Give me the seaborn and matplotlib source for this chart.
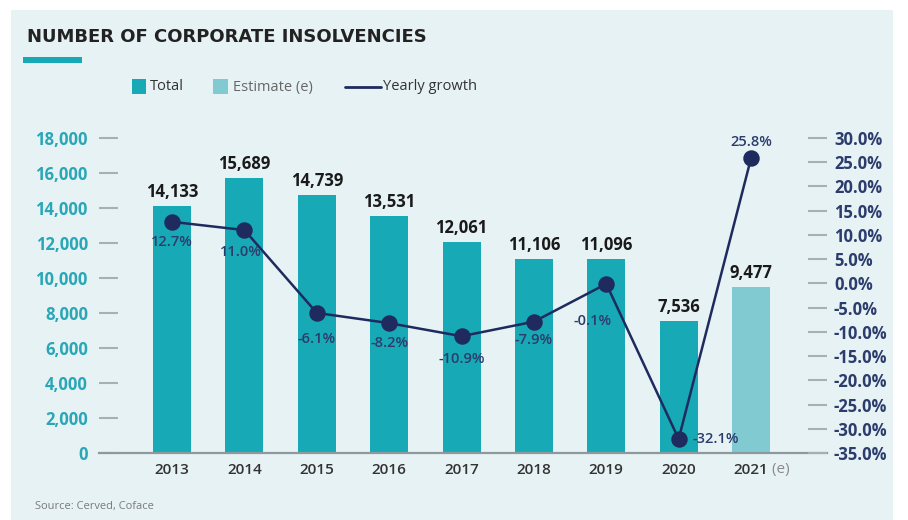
import matplotlib
matplotlib.use("Agg")
import matplotlib.pyplot as plt
from matplotlib.patches import Rectangle
from matplotlib.lines import Line2D
import seaborn as sns
import pandas as pd

# --- data -------------------------------------------------------------
years = ["2013", "2014", "2015", "2016", "2017", "2018", "2019", "2020", "2021"]
insolvencies = [14133, 15689, 14739, 13531, 12061, 11106, 11096, 7536, 9477]
growth_pct = [12.7, 11.0, -6.1, -8.2, -10.9, -7.9, -0.1, -32.1, 25.8]
is_estimate = [False, False, False, False, False, False, False, False, True]
left_ticks = [0, 2000, 4000, 6000, 8000, 10000, 12000, 14000, 16000, 18000]
right_ticks = [-35, -30, -25, -20, -15, -10, -5, 0, 5, 10, 15, 20, 25, 30]

# label offsets for the growth values (pixels, relative to each point)
growth_label_offsets = [(0, -20), (-4, -22), (0, -26), (0, -20), (0, -23),
                        (0, -18), (-14, -37), (14, 0), (0, 16)]

# --- style ------------------------------------------------------------
TEAL = "#17a9b5"
EST = "#82cad1"
NAVY = "#1f2b5e"
PANEL = "#e7f2f5"
TICK_GRAY = "#a3b2b6"
W, H = 908, 520

sns.set_theme(style="white")
plt.rcParams["font.family"] = ["Open Sans", "DejaVu Sans"]


def fx(x):
    return x / W


def fy(y):
    return 1 - y / H


fig = plt.figure(figsize=(W / 100, H / 100), dpi=100)
fig.patch.set_facecolor("white")
fig.add_artist(Rectangle((fx(11), 0), fx(882), 510 / H, transform=fig.transFigure,
                         facecolor=PANEL, edgecolor="none", zorder=0))

ax = fig.add_axes([fx(99), fy(453), fx(728), 315 / H])
ax.patch.set_visible(False)

df = pd.DataFrame({
    "year": years,
    "total": insolvencies,
    "kind": ["Estimate (e)" if e else "Total" for e in is_estimate],
})
sns.barplot(data=df, x="year", y="total", hue="kind",
            palette={"Total": TEAL, "Estimate (e)": EST},
            dodge=False, width=0.525, saturation=1, legend=False, ax=ax,
            linewidth=0, edgecolor="none", zorder=2)

for i, v in enumerate(insolvencies):
    ax.annotate(f"{v:,}", (i, v), xytext=(0, 5), textcoords="offset pixels",
                ha="center", va="bottom", fontsize=12, fontweight="bold",
                color="#1a1a1a", zorder=5)

ax.set_ylim(0, 18000)
ax.set_yticks(left_ticks)
ax.set_yticklabels([f"{t:,}" for t in left_ticks])
ax.set_xlim(-1.01, 9.05)
ax.set_xlabel("")
ax.set_ylabel("")
ax.tick_params(axis="y", direction="in", length=14, width=1.5, color=TICK_GRAY,
               pad=8, labelsize=12, labelcolor="#2aa7b6")
for lab in ax.get_yticklabels():
    lab.set_fontweight("bold")
for s in ["top", "right", "left"]:
    ax.spines[s].set_visible(False)
ax.spines["bottom"].set_color("#8d999c")
ax.spines["bottom"].set_linewidth(1.6)

# growth line on the right-hand axis
ax2 = ax.twinx()
sns.pointplot(x=years, y=growth_pct, ax=ax2, color=NAVY, markers="o",
              markersize=10.5, linewidth=1.8, errorbar=None)
ax2.set_ylim(-35, 30)
ax2.set_xlim(-1.01, 9.05)
ax2.set_yticks(right_ticks)
ax2.set_yticklabels([f"{t:.1f}%" for t in right_ticks])
ax2.set_ylabel("")
ax2.tick_params(axis="y", direction="in", length=14, width=1.5, color=TICK_GRAY,
                pad=5, labelsize=12, labelcolor="#2c3c6c")
for lab in ax2.get_yticklabels():
    lab.set_fontweight("bold")
for s in ["top", "right", "left", "bottom"]:
    ax2.spines[s].set_visible(False)

for i, (g, off) in enumerate(zip(growth_pct, growth_label_offsets)):
    ha = "left" if off[0] > 10 else "center"
    ax2.annotate(f"{g:.1f}%", (i, g), xytext=off, textcoords="offset pixels",
                 ha=ha, va="center", fontsize=10.5, fontweight="semibold",
                 color="#2c3c6c", zorder=6)

# category labels
ax.set_xticks(range(len(years)))
ax.set_xticklabels(years)
ax.tick_params(axis="x", length=0, pad=7, labelsize=11, labelcolor="#333333")
for lab in ax.get_xticklabels():
    lab.set_fontweight("semibold")
est_label = ax.get_xticklabels()[is_estimate.index(True)]
ax.annotate(" (e)", (1, 0.5), xycoords=est_label, ha="left", va="center",
            fontsize=11, color="#8a8a8a")

# title, accent bar, legend, source
fig.text(fx(27), fy(37), "NUMBER OF CORPORATE INSOLVENCIES", ha="left", va="center",
         fontsize=12.95, fontweight="bold", color="#222222", family="DejaVu Sans")
fig.add_artist(Rectangle((fx(23), fy(63)), fx(59), 6 / H, transform=fig.transFigure,
                         facecolor=TEAL, edgecolor="none"))

fig.add_artist(Rectangle((fx(132), fy(94)), fx(14), 15 / H, transform=fig.transFigure,
                         facecolor=TEAL, edgecolor="none"))
fig.text(fx(150), fy(87), "Total", ha="left", va="center", fontsize=10.5, color="#333333")
fig.add_artist(Rectangle((fx(213), fy(94)), fx(15), 15 / H, transform=fig.transFigure,
                         facecolor=EST, edgecolor="none"))
fig.text(fx(233), fy(87), "Estimate (e)", ha="left", va="center", fontsize=10.5,
         color="#666666")
fig.add_artist(Line2D([fx(345), fx(381)], [fy(87), fy(87)], transform=fig.transFigure,
                      color=NAVY, lw=2))
fig.text(fx(383), fy(87), "Yearly growth", ha="left", va="center", fontsize=10.5,
         color="#333333")

fig.text(fx(35), fy(507), "Source: Cerved, Coface", ha="left", va="center",
         fontsize=8, color="#7a7a7a")

fig.savefig("out.png", dpi=100, facecolor=fig.get_facecolor())
